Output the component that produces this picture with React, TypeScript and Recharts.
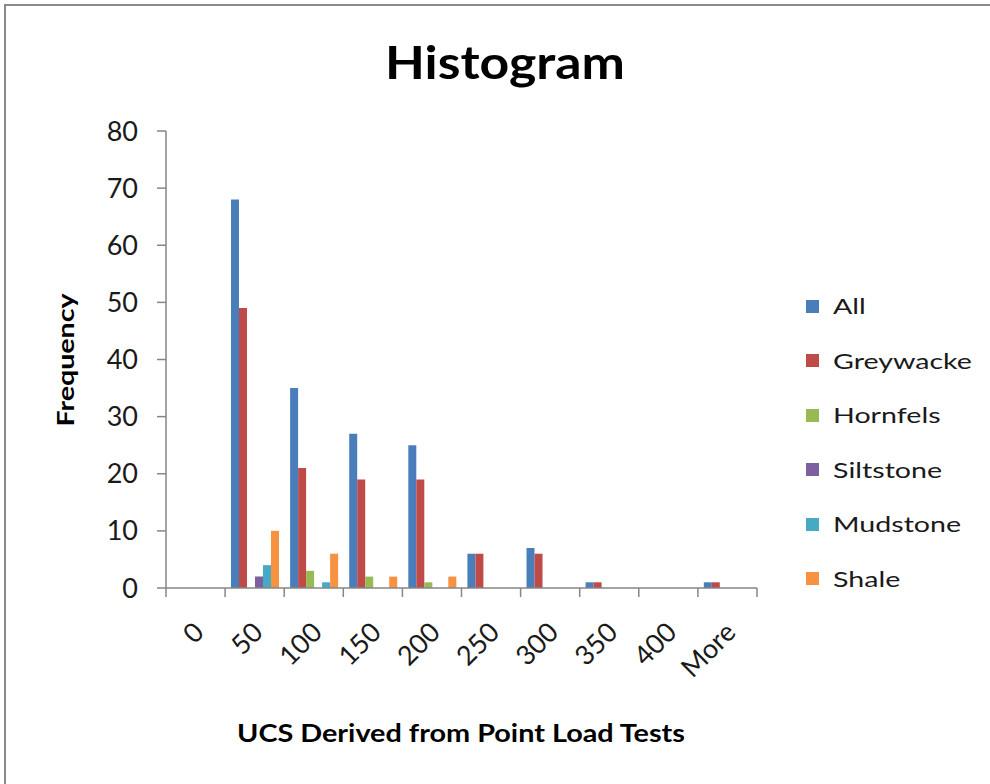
import React from 'react';
import { BarChart, Bar, XAxis, YAxis } from 'recharts';

// histogram bins
const bins = ['0', '50', '100', '150', '200', '250', '300', '350', '400', 'More'];

// frequency per bin, one list per rock type
const allRocks = [0, 68, 35, 27, 25, 6, 7, 1, 0, 1];
const greywacke = [0, 49, 21, 19, 19, 6, 6, 1, 0, 1];
const hornfels = [0, 0, 3, 2, 1, 0, 0, 0, 0, 0];
const siltstone = [0, 2, 0, 0, 0, 0, 0, 0, 0, 0];
const mudstone = [0, 4, 1, 0, 0, 0, 0, 0, 0, 0];
const shale = [0, 10, 6, 2, 2, 0, 0, 0, 0, 0];

const yTicks = [0, 10, 20, 30, 40, 50, 60, 70, 80];

const series = [
  { key: 'all', name: 'All', values: allRocks, color: '#4A7EBB' },
  { key: 'greywacke', name: 'Greywacke', values: greywacke, color: '#BE4B48' },
  { key: 'hornfels', name: 'Hornfels', values: hornfels, color: '#98B954' },
  { key: 'siltstone', name: 'Siltstone', values: siltstone, color: '#7D60A0' },
  { key: 'mudstone', name: 'Mudstone', values: mudstone, color: '#46AAC5' },
  { key: 'shale', name: 'Shale', values: shale, color: '#F69240' },
];

const data = bins.map((bin, i) => {
  const row: Record<string, string | number> = { bin };
  series.forEach((s) => {
    row[s.key] = s.values[i];
  });
  return row;
});

const font = 'Lato, "Open Sans", sans-serif';
const axisGrey = '#868686';
const textColor = '#1a1a1a';

const XTick = (props: any) => {
  const { x, y, payload, index } = props;
  const half = payload && payload.offset ? payload.offset : 29.55;
  const isLast = index === bins.length - 1;
  return (
    <g>
      <line x1={x - half} y1={y} x2={x - half} y2={y + 9} stroke={axisGrey} strokeWidth={1.5} />
      {isLast && (
        <line x1={x + half} y1={y} x2={x + half} y2={y + 9} stroke={axisGrey} strokeWidth={1.5} />
      )}
      <text
        x={0}
        y={0}
        transform={`translate(${x + 10}, ${y + 46}) rotate(-45)`}
        textAnchor="end"
        fontSize={27}
        fontFamily={font}
        fill={textColor}
      >
        {payload.value}
      </text>
    </g>
  );
};

export default function App() {
  return (
    <div style={{ position: 'absolute', left: 0, top: 0, width: 990, height: 784, background: '#fff', overflow: 'hidden' }}>
      <div
        style={{
          position: 'absolute',
          left: 4,
          top: 4,
          width: 1000,
          height: 800,
          borderLeft: '2px solid #8a8a8a',
          borderTop: '2px solid #8a8a8a',
        }}
      />
      <div
        style={{
          position: 'absolute',
          left: 0,
          top: 34,
          width: 1010,
          textAlign: 'center',
          fontFamily: font,
          fontWeight: 700,
          fontSize: 45,
          color: '#000',
          lineHeight: '56px',
          transform: 'scaleX(1.15)',
          transformOrigin: '505px 0',
        }}
      >
        Histogram
      </div>

      <div style={{ position: 'absolute', left: 0, top: 0 }}>
        <BarChart
          width={990}
          height={784}
          data={data}
          margin={{ top: 131, right: 233, bottom: 96, left: 0 }}
          barCategoryGap="10%"
          barGap={0}
        >
          <XAxis
            dataKey="bin"
            height={100}
            interval={0}
            tickLine={false}
            tickSize={0}
            tickMargin={0}
            tick={<XTick />}
            axisLine={{ stroke: axisGrey, strokeWidth: 1.5 }}
          />
          <YAxis
            width={166}
            domain={[0, 80]}
            ticks={yTicks}
            interval={0}
            tickSize={9}
            tickMargin={19}
            tickLine={{ stroke: axisGrey, strokeWidth: 1.5 }}
            axisLine={{ stroke: axisGrey, strokeWidth: 1.5 }}
            tick={{ fontSize: 27, fontFamily: font, fill: textColor }}
          />
          {series.map((s) => (
            <Bar key={s.key} dataKey={s.key} name={s.name} fill={s.color} isAnimationActive={false} />
          ))}
        </BarChart>
      </div>

      <div
        style={{
          position: 'absolute',
          left: 65,
          top: 360,
          transform: 'translate(-50%, -50%) rotate(-90deg) scaleX(1.3)',
          fontFamily: font,
          fontWeight: 700,
          fontSize: 22,
          whiteSpace: 'nowrap',
          color: '#000',
        }}
      >
        Frequency
      </div>

      <div
        style={{
          position: 'absolute',
          left: 161,
          width: 600,
          top: 718,
          textAlign: 'center',
          fontFamily: font,
          fontWeight: 700,
          fontSize: 24,
          color: '#000',
          lineHeight: '30px',
          transform: 'scaleX(1.2)',
        }}
      >
        UCS Derived from Point Load Tests
      </div>

      <div style={{ position: 'absolute', left: 806, top: 279 }}>
        {series.map((s) => (
          <div key={s.key} style={{ display: 'flex', alignItems: 'center', height: 54.5 }}>
            <span style={{ width: 13, height: 13, background: s.color, display: 'inline-block', marginRight: 14 }} />
            <span
              style={{
                fontFamily: font,
                fontSize: 22,
                color: textColor,
                lineHeight: '28px',
                transform: 'scaleX(1.3)',
                transformOrigin: '0 50%',
                whiteSpace: 'nowrap',
              }}
            >
              {s.name}
            </span>
          </div>
        ))}
      </div>
    </div>
  );
}
